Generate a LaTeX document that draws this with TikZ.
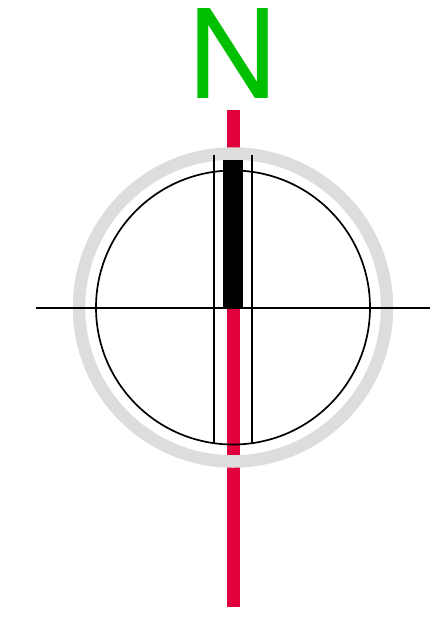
\documentclass[tikz,border=0pt]{standalone}
\usepackage{fontspec}
\setmainfont{TeX Gyre Heros}
\usepackage{xcolor}
\definecolor{needlered}{RGB}{224,0,60}
\definecolor{northgreen}{RGB}{0,191,0}
\definecolor{ringgray}{RGB}{221,221,221}

\begin{document}
\begin{tikzpicture}[x=1pt,y=-1pt, every node/.style={align=center,inner sep=0pt}, needle/.style={fill=needlered,draw=none}, ring/.style={draw=ringgray,line width=12.5pt}, hair/.style={draw=black,line width=1.7pt}]
  \useasboundingbox (0,0) rectangle (447,629);
  \coordinate (c) at (233,307.5);
  \fill[needle] (226.5,110) rectangle (240,607);
  \draw[ring] (c) circle[radius=154];
  \fill[black] (222.7,160) rectangle (243.4,307.5);
  \draw[hair] (c) circle[radius=137];
  \draw[hair] (214,155) -- (214,444);
  \draw[hair] (252,155) -- (252,444);
  \draw[hair] (36,308) -- (430,308);
  \node[font=\fontsize{123.5}{124}\selectfont,text=northgreen,anchor=base] (north) at (233,98) {N};
\end{tikzpicture}
\end{document}
